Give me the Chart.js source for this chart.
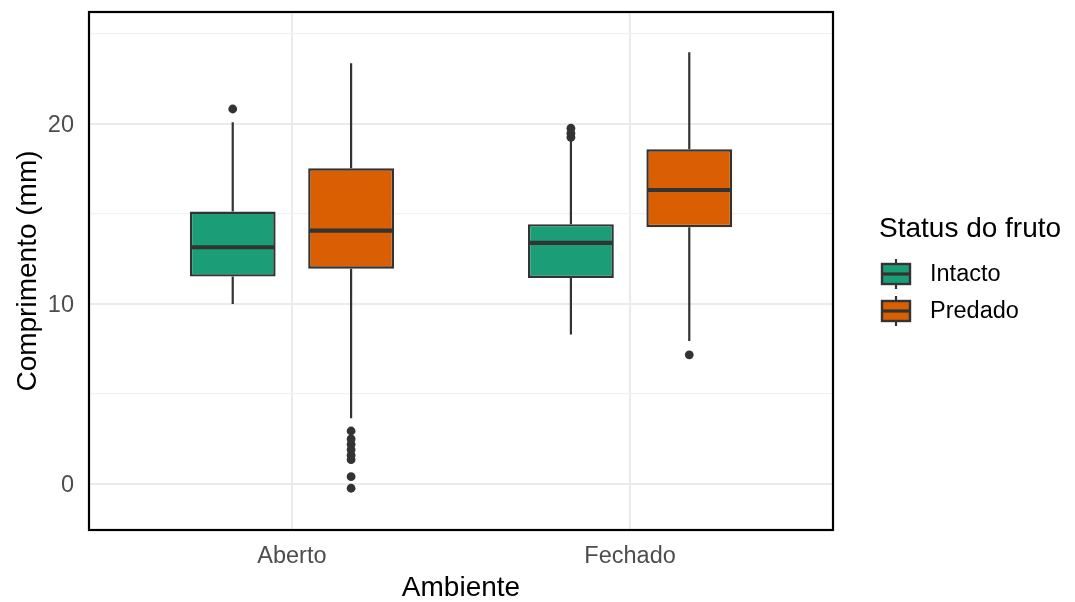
<!DOCTYPE html>
<html>
<head>
<meta charset="utf-8">
<script src="https://cdn.jsdelivr.net/npm/chart.js@4.4.0/dist/chart.umd.min.js"></script>
<style>
  html, body { margin: 0; padding: 0; background: #fff; }
  #wrap { width: 1075px; height: 602px; }
</style>
</head>
<body>
<div id="wrap"><canvas id="chart" width="1075" height="602"></canvas></div>
<script>
// categories and groups
const categories = ["Aberto", "Fechado"];
const groups = ["Intacto", "Predado"];
const groupColors = ["#1B9E77", "#D95F02"];

// [lower whisker, Q1, median, Q3, upper whisker] per category
const intactoStats = [
  [10.0, 11.52, 13.15, 15.13, 20.1],
  [8.3, 11.44, 13.39, 14.43, 19.1],
];
const predadoStats = [
  [3.65, 11.96, 14.07, 17.54, 23.37],
  [7.94, 14.26, 16.33, 18.59, 23.98],
];

// outliers per category
const intactoOutliers = [[20.83], [19.76, 19.48, 19.26]];
const predadoOutliers = [[2.94, 2.5, 2.2, 1.9, 1.6, 1.35, 0.4, -0.24], [7.17]];

const yTicks = [0, 5, 10, 15, 20, 25];
const yLabelled = [0, 10, 20];

const FONT = "'Liberation Sans', Arial, sans-serif";
const INK = "#333333";
const catPct = 0.7;
const dodge = catPct / 4;   // centre offset of each group inside a category

function boxData(stats) {
  return stats.map((s, i) => ({ x: i + 1, y: [s[1], s[3]] }));
}
function outlierData(outs, side) {
  const pts = [];
  outs.forEach((list, i) => list.forEach(v => pts.push({ x: i + 1 + side * dodge, y: v })));
  return pts;
}

const boxPlugin = {
  id: "boxparts",
  beforeDatasetsDraw(chart) {
    // whiskers, behind the boxes
    const ctx = chart.ctx, y = chart.scales.y;
    ctx.save();
    ctx.strokeStyle = INK;
    ctx.lineWidth = 2.2;
    [intactoStats, predadoStats].forEach((stats, d) => {
      chart.getDatasetMeta(d).data.forEach((bar, i) => {
        const s = stats[i];
        const { x } = bar.getProps(["x"], true);
        ctx.beginPath();
        ctx.moveTo(x, y.getPixelForValue(s[3]));
        ctx.lineTo(x, y.getPixelForValue(s[4]));
        ctx.moveTo(x, y.getPixelForValue(s[1]));
        ctx.lineTo(x, y.getPixelForValue(s[0]));
        ctx.stroke();
      });
    });
    ctx.restore();
  },
  afterDatasetsDraw(chart) {
    // medians
    const ctx = chart.ctx, y = chart.scales.y;
    ctx.save();
    ctx.strokeStyle = INK;
    ctx.lineWidth = 4.2;
    [intactoStats, predadoStats].forEach((stats, d) => {
      chart.getDatasetMeta(d).data.forEach((bar, i) => {
        const { x, width } = bar.getProps(["x", "width"], true);
        const py = y.getPixelForValue(stats[i][2]);
        ctx.beginPath();
        ctx.moveTo(x - width / 2 + 1, py);
        ctx.lineTo(x + width / 2 - 1, py);
        ctx.stroke();
      });
    });
    ctx.restore();
  },
  afterDraw(chart) {
    const ctx = chart.ctx, a = chart.chartArea;
    ctx.save();
    // panel border
    ctx.strokeStyle = "#000";
    ctx.lineWidth = 2.2;
    ctx.strokeRect(a.left, a.top, a.right - a.left, a.bottom - a.top);

    // legend
    const lx = a.right + 46;
    ctx.fillStyle = "#000";
    ctx.font = "28px " + FONT;
    ctx.textBaseline = "middle";
    ctx.textAlign = "left";
    ctx.fillText("Status do fruto", lx, 229);
    groups.forEach((g, k) => {
      const cy = 274 + k * 37;
      const kx = lx + 3, kw = 28, kh = 20;
      ctx.strokeStyle = INK;
      ctx.lineWidth = 2.2;
      ctx.beginPath();
      ctx.moveTo(kx + kw / 2, cy - 15);
      ctx.lineTo(kx + kw / 2, cy + 15);
      ctx.stroke();
      ctx.fillStyle = groupColors[k];
      ctx.fillRect(kx, cy - kh / 2, kw, kh);
      ctx.lineWidth = 2.4;
      ctx.strokeRect(kx, cy - kh / 2, kw, kh);
      ctx.lineWidth = 3.2;
      ctx.beginPath();
      ctx.moveTo(kx, cy);
      ctx.lineTo(kx + kw, cy);
      ctx.stroke();
      ctx.fillStyle = "#000";
      ctx.font = "23.5px " + FONT;
      ctx.fillText(g, lx + 51, cy + 1);
    });
    ctx.restore();
  }
};

new Chart(document.getElementById("chart"), {
  type: "bar",
  data: {
    datasets: [
      {
        label: groups[0],
        data: boxData(intactoStats),
        backgroundColor: groupColors[0],
        borderColor: INK,
        borderWidth: 2.4,
        borderSkipped: false,
        categoryPercentage: catPct,
        barPercentage: 0.725,
      },
      {
        label: groups[1],
        data: boxData(predadoStats),
        backgroundColor: groupColors[1],
        borderColor: INK,
        borderWidth: 2.4,
        borderSkipped: false,
        categoryPercentage: catPct,
        barPercentage: 0.725,
      },
      {
        type: "scatter",
        label: "out-" + groups[0],
        data: outlierData(intactoOutliers, -1),
        pointRadius: 4.4,
        pointBackgroundColor: INK,
        pointBorderWidth: 0,
      },
      {
        type: "scatter",
        label: "out-" + groups[1],
        data: outlierData(predadoOutliers, 1),
        pointRadius: 4.4,
        pointBackgroundColor: INK,
        pointBorderWidth: 0,
      },
    ],
  },
  options: {
    responsive: false,
    animation: false,
    layout: { padding: { top: 12, right: 242, bottom: 0, left: 0 } },
    plugins: { legend: { display: false }, tooltip: { enabled: false } },
    scales: {
      x: {
        type: "linear",
        min: 0.4,
        max: 2.6,
        offset: false,
        afterBuildTicks: ax => { ax.ticks = categories.map((c, i) => ({ value: i + 1 })); },
        afterFit: ax => { ax.height = 72; ax.paddingLeft = 0; ax.paddingRight = 0; },
        grid: { offset: false, color: "#ebebeb", lineWidth: 2, drawTicks: false },
        border: { display: false },
        ticks: {
          callback: v => categories[v - 1],
          color: "#4d4d4d",
          font: { family: FONT, size: 23.5 },
          padding: 12,
          maxRotation: 0,
        },
        title: {
          display: true,
          text: "Ambiente",
          color: "#000",
          font: { family: FONT, size: 28, lineHeight: 1 },
          padding: { top: 0, bottom: 0 },
        },
      },
      y: {
        min: -2.56,
        max: 26.22,
        afterBuildTicks: ax => { ax.ticks = yTicks.map(v => ({ value: v })); },
        afterFit: ax => { ax.width = 89; ax.paddingTop = 0; ax.paddingBottom = 0; },
        grid: {
          color: c => (yLabelled.includes(c.tick.value) ? "#ebebeb" : "#f2f2f2"),
          lineWidth: c => (yLabelled.includes(c.tick.value) ? 2 : 1.3),
          drawTicks: false,
        },
        border: { display: false },
        ticks: {
          callback: v => (yLabelled.includes(v) ? String(v) : ""),
          color: "#4d4d4d",
          font: { family: FONT, size: 23.5 },
          padding: 15,
          labelOffset: 2,
        },
        title: {
          display: true,
          text: "Comprimento (mm)",
          color: "#000",
          font: { family: FONT, size: 28, lineHeight: 1 },
          padding: { top: 14, bottom: 0 },
        },
      },
    },
  },
  plugins: [boxPlugin],
});
</script>
</body>
</html>
